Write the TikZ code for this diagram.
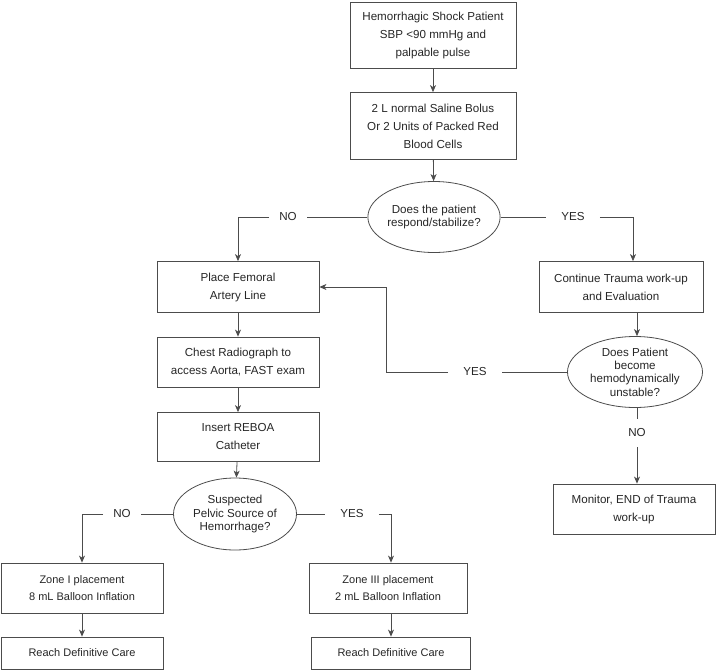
\documentclass[tikz,border=0pt]{standalone}
\usepackage{fontspec}
\setmainfont{Liberation Sans}
\usetikzlibrary{arrows.meta,shapes.geometric}

\tikzset{
  box/.style={draw=black!70,line width=0.8pt,align=center,inner sep=0pt,
              text=black!85,font=\fontsize{11.6}{18}\selectfont},
  decision/.style={ellipse,draw=black!70,line width=0.8pt,align=center,inner sep=0pt,
              text=black!85,font=\fontsize{11.6}{13.3}\selectfont},
  lbl/.style={inner sep=10pt,text=black!85,font=\fontsize{11.6}{14}\selectfont},
  line/.style={draw=black!70,line width=0.8pt},
  arr/.style={line,-{Stealth[length=7pt,width=6pt,inset=2pt]}},
}

\begin{document}
\begin{tikzpicture}[x=1pt,y=-1pt]
  \useasboundingbox (0,0) rectangle (716,670);

  % top of the chart
  \node[box,minimum width=166,minimum height=66] (shock) at (433,35)
       {Hemorrhagic Shock Patient\\SBP <90 mmHg and\\palpable pulse};
  \node[box,minimum width=166,minimum height=67] (bolus) at (433,126)
       {2 L normal Saline Bolus\\Or 2 Units of Packed Red\\Blood Cells};
  \node[decision,minimum width=125,minimum height=71] (resp) at (434,217)
       {Does the patient\\respond/stabilize?};
  \node[lbl] (no1) at (288,217) {NO};
  \node[lbl,inner xsep=15pt] (yes1) at (573,217) {YES};

  % left branch
  \node[box,minimum width=162,minimum height=51] (fem) at (238,287)
       {Place Femoral\\Artery Line};
  \node[box,minimum width=162,minimum height=50] (chest) at (238,362)
       {Chest Radiograph to\\access Aorta, FAST exam};
  \node[box,minimum width=162,minimum height=49] (reboa) at (238,437)
       {Insert REBOA\\Catheter};
  \node[decision,minimum width=123,minimum height=72] (pelvic) at (235,514)
       {Suspected\\Pelvic Source of\\Hemorrhage?};
  \node[lbl] (no3) at (122,514) {NO};
  \node[lbl,inner xsep=15pt] (yes3) at (352,514) {YES};

  \node[box,minimum width=162,minimum height=50,font=\fontsize{11}{17}\selectfont]
       (zone1) at (82,588) {Zone I placement\\8 mL Balloon Inflation};
  \node[box,minimum width=162,minimum height=32,font=\fontsize{11}{17}\selectfont]
       (reach1) at (82,653) {Reach Definitive Care};
  \node[box,minimum width=158,minimum height=50,font=\fontsize{11}{17}\selectfont]
       (zone3) at (388,588) {Zone III placement\\2 mL Balloon Inflation};
  \node[box,minimum width=159,minimum height=32,font=\fontsize{11}{17}\selectfont]
       (reach2) at (391,653) {Reach Definitive Care};

  % right branch
  \node[box,minimum width=164,minimum height=51] (cont) at (621,287)
       {Continue Trauma work-up\\and Evaluation};
  \node[decision,minimum width=135,minimum height=71] (unst) at (635,372)
       {Does Patient\\become\\hemodynamically\\unstable?};
  \node[lbl,inner xsep=15pt] (yes2) at (475,372) {YES};
  \node[lbl] (no2) at (637,433) {NO};
  \node[box,minimum width=162,minimum height=50] (mon) at (634,509)
       {Monitor, END of Trauma\\work-up};
  \coordinate (back) at (386,287);

  % connectors
  \draw[arr] (shock) -- (bolus);
  \draw[arr] (bolus) -- (resp);
  \draw[line] (resp) -- (no1);
  \draw[arr] (no1) -| (fem);
  \draw[line] (resp) -- (yes1);
  \draw[arr] (yes1) -| ([xshift=12pt]cont.north);

  \draw[arr] (fem) -- (chest);
  \draw[arr] (chest) -- (reboa);
  \draw[arr] (reboa) -- (pelvic);
  \draw[line] (pelvic) -- (no3);
  \draw[arr] (no3) -| (zone1);
  \draw[line] (pelvic) -- (yes3);
  \draw[arr] (yes3) -| (reach2.north |- zone3.north);
  \draw[arr] (zone1) -- (reach1);
  \draw[arr] (reach2.north |- zone3.south) -- (reach2.north);

  \draw[arr] (no2.north |- cont.south) -- (no2.north |- unst.north);
  \draw[line] (unst) -- (yes2);
  \draw[arr] (yes2) -| (back) -- (fem.east);
  \draw[line] (no2.north |- unst.south) -- (no2.north);
  \draw[arr] (no2.south) -- (no2.south |- mon.north);
\end{tikzpicture}
\end{document}
